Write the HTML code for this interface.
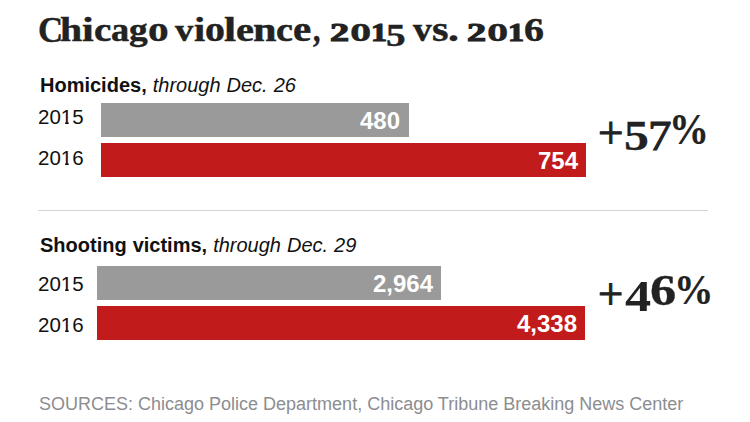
<!DOCTYPE html>
<html><head><meta charset="utf-8">
<style>
html,body{margin:0;padding:0;background:#fff;}
body{width:750px;height:422px;position:relative;overflow:hidden;font-family:"Liberation Sans",sans-serif;}
.a{position:absolute;white-space:nowrap;line-height:1;}
.gp{position:absolute;white-space:nowrap;line-height:1;font-family:"Liberation Serif",serif;color:#222;transform-origin:0 0;}
.lab{font-size:20px;color:#111;left:40px;word-spacing:0.45px;}
.lab b{font-weight:bold;}
.lab i{font-style:italic;}
.yr{font-size:20.5px;color:#111;left:38px;}
.one{display:inline-block;clip-path:polygon(-5px -5px,20px -5px,20px 15px,7.9px 15px,7.9px 25px,4.3px 25px,4.3px 15px,-5px 15px);}
.bar{position:absolute;height:34px;}
.g{background:#9a9a9a;}
.r{background:#c11b1b;}
.val{position:absolute;font-size:24px;font-weight:bold;color:#fff;line-height:34px;top:0.5px;right:9px;}
.rule{position:absolute;left:38px;width:670px;top:210px;height:1px;background:#d3d3d3;}
.src{font-size:18px;color:#8c8d90;left:39px;top:395px;}
</style></head><body>
<div class="gp" style="font-weight:bold;font-size:35.26px;left:38.27px;top:13.3px;-webkit-text-stroke:0.45px #222;transform:scaleX(0.9873)">C</div>
<div class="gp" style="font-weight:bold;font-size:32.7px;left:60.45px;top:14.0px;-webkit-text-stroke:0.45px #222;transform:scaleX(1.2157)">h</div>
<div class="gp" style="font-weight:bold;font-size:33.48px;left:82.34px;top:13.2px;-webkit-text-stroke:0.45px #222;transform:scaleX(1.2627)">i</div>
<div class="gp" style="font-weight:bold;font-size:34.2px;left:93.98px;top:13.0px;-webkit-text-stroke:0.45px #222;transform:scaleX(1.1421)">c</div>
<div class="gp" style="font-weight:bold;font-size:33.58px;left:110.92px;top:12.6px;-webkit-text-stroke:0.45px #222;transform:scaleX(1.083)">a</div>
<div class="gp" style="font-weight:bold;font-size:31.68px;left:129.47px;top:14.3px;-webkit-text-stroke:0.45px #222;transform:scaleX(1.1777)">g</div>
<div class="gp" style="font-weight:bold;font-size:35.69px;left:147.84px;top:12.2px;-webkit-text-stroke:0.45px #222;transform:scaleX(1.1571)">o</div>
<div class="gp" style="font-weight:bold;font-size:32.5px;left:175.02px;top:13.7px;-webkit-text-stroke:0.45px #222;transform:scaleX(1.1282)">v</div>
<div class="gp" style="font-weight:bold;font-size:33.48px;left:193.93px;top:13.2px;-webkit-text-stroke:0.45px #222;transform:scaleX(1.2007)">i</div>
<div class="gp" style="font-weight:bold;font-size:35.69px;left:204.8px;top:12.2px;-webkit-text-stroke:0.45px #222;transform:scaleX(1.1173)">o</div>
<div class="gp" style="font-weight:bold;font-size:32.7px;left:224.38px;top:14.0px;-webkit-text-stroke:0.45px #222;transform:scaleX(1.3314)">l</div>
<div class="gp" style="font-weight:bold;font-size:34.15px;left:236.25px;top:13.4px;-webkit-text-stroke:0.45px #222;transform:scaleX(1.1846)">e</div>
<div class="gp" style="font-weight:bold;font-size:33.58px;left:252.74px;top:12.6px;-webkit-text-stroke:0.45px #222;transform:scaleX(1.2591)">n</div>
<div class="gp" style="font-weight:bold;font-size:33.87px;left:275.98px;top:12.7px;-webkit-text-stroke:0.45px #222;transform:scaleX(1.1254)">c</div>
<div class="gp" style="font-weight:bold;font-size:35.69px;left:292.96px;top:12.2px;-webkit-text-stroke:0.45px #222;transform:scaleX(1.1524)">e</div>
<div class="gp" style="font-weight:bold;font-size:35.31px;left:313.0px;top:11.9px;-webkit-text-stroke:0.45px #222;transform:scaleX(0.8359)">,</div>
<div class="gp" style="font-weight:bold;font-size:33.34px;left:413.08px;top:13.1px;-webkit-text-stroke:0.45px #222;transform:scaleX(1.1207)">v</div>
<div class="gp" style="font-weight:bold;font-size:35.69px;left:431.81px;top:12.2px;-webkit-text-stroke:0.45px #222;transform:scaleX(1.1875)">s</div>
<div class="gp" style="font-weight:bold;font-size:33.0px;left:447.82px;top:14.4px;-webkit-text-stroke:0.45px #222;transform:scaleX(1.32)">.</div>
<div class="gp" style="font-weight:bold;font-size:25.75px;left:329.7px;top:20.25px;-webkit-text-stroke:1.1px #222;transform:scaleX(1.4836)">2</div>
<div class="gp" style="font-weight:bold;font-size:36.4px;left:350.08px;top:10.95px;-webkit-text-stroke:0.45px #222;transform:scaleX(1.1692)">o</div>
<div class="gp" style="font-weight:bold;font-size:24.58px;left:371.24px;top:20.5px;-webkit-text-stroke:1.1px #222;transform:scaleX(1.3078)">1</div>
<div class="gp" style="font-weight:bold;font-size:32.59px;left:386.23px;top:18.8px;-webkit-text-stroke:0.45px #222;transform:scaleX(1.2019)">5</div>
<div class="gp" style="font-weight:bold;font-size:25.75px;left:466.7px;top:20.25px;-webkit-text-stroke:1.1px #222;transform:scaleX(1.4836)">2</div>
<div class="gp" style="font-weight:bold;font-size:36.4px;left:487.08px;top:10.95px;-webkit-text-stroke:0.45px #222;transform:scaleX(1.1692)">o</div>
<div class="gp" style="font-weight:bold;font-size:24.58px;left:508.24px;top:20.5px;-webkit-text-stroke:1.1px #222;transform:scaleX(1.3078)">1</div>
<div class="gp" style="font-weight:bold;font-size:33.1px;left:523.57px;top:13.65px;-webkit-text-stroke:0.45px #222;transform:scaleX(1.2067)">6</div>
<div class="gp" style="font-weight:normal;font-size:46.4px;left:597.61px;top:110.2px;-webkit-text-stroke:1.0px #222;transform:scaleX(0.9739)">+</div>
<div class="gp" style="font-weight:bold;font-size:42.15px;left:623.64px;top:115.0px;-webkit-text-stroke:0.3px #222;transform:scaleX(1.1792)">5</div>
<div class="gp" style="font-weight:normal;font-size:42.61px;left:648.0px;top:115.4px;-webkit-text-stroke:1.0px #222;transform:scaleX(1.105)">7</div>
<div class="gp" style="font-weight:bold;font-size:43.66px;left:669.34px;top:108.0px;-webkit-text-stroke:0.2px #222;transform:scaleX(0.9143)">%</div>
<div class="gp" style="font-weight:normal;font-size:44.47px;left:597.84px;top:271.55px;-webkit-text-stroke:1.0px #222;transform:scaleX(1.0045)">+</div>
<div class="gp" style="font-weight:bold;font-size:44.83px;left:624.95px;top:274.45px;-webkit-text-stroke:0.0px #222;transform:scaleX(1.1668)">4</div>
<div class="gp" style="font-weight:bold;font-size:44.31px;left:649.86px;top:268.8px;-webkit-text-stroke:0.3px #222;transform:scaleX(1.1813)">6</div>
<div class="gp" style="font-weight:bold;font-size:42.48px;left:674.08px;top:269.15px;-webkit-text-stroke:0.2px #222;transform:scaleX(0.929)">%</div>

<div class="a lab" style="top:74.5px"><b>Homicides,</b> <i>through Dec. 26</i></div>
<div class="a yr" style="top:107px">20<span class="one">1</span>5</div>
<div class="a yr" style="top:148px">20<span class="one">1</span>6</div>
<div class="bar g" style="left:101px;top:103px;width:308px"><span class="val">480</span></div>
<div class="bar r" style="left:101px;top:143px;width:485px"><span class="val" style="right:8px">754</span></div>

<div class="rule"></div>

<div class="a lab" style="top:234.5px"><b>Shooting victims,</b> <i>through Dec. 29</i></div>
<div class="a yr" style="top:274px">20<span class="one">1</span>5</div>
<div class="a yr" style="top:315px">20<span class="one">1</span>6</div>
<div class="bar g" style="left:97px;top:266px;width:344px"><span class="val" style="right:8px">2,964</span></div>
<div class="bar r" style="left:97px;top:306px;width:488px"><span class="val" style="right:8px">4,338</span></div>

<div class="a src">SOURCES: Chicago Police Department, Chicago Tribune Breaking News Center</div>
</body></html>
